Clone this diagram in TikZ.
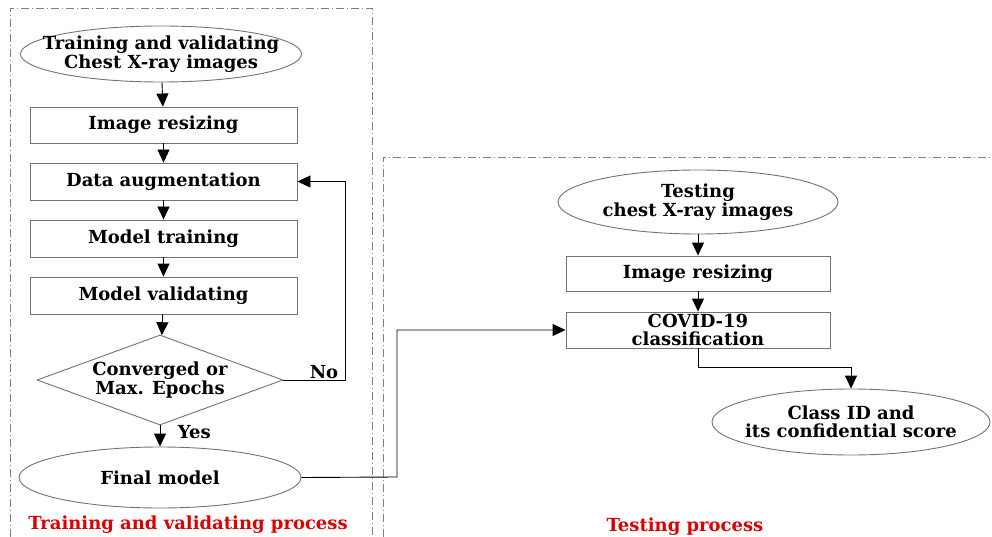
\documentclass[tikz,border=0pt]{standalone}
\usepackage{fontspec}
\setmainfont{DejaVu Serif}
\usetikzlibrary{shapes.geometric,arrows.meta}
\begin{document}
\begin{tikzpicture}[x=1pt,y=-1pt,
  every node/.style={font=\bfseries\fontsize{18}{18.5}\selectfont, align=center},
  boxnode/.style={draw=black!55, line width=0.9pt, minimum width=267pt, minimum height=37pt, inner sep=0pt},
  ovalnode/.style={ellipse, draw=black!55, line width=0.9pt, inner xsep=-25pt, inner ysep=-6pt},
  decnode/.style={diamond, draw=black!55, line width=0.9pt, inner sep=0pt, aspect=2.7},
  flow/.style={-{Triangle[length=13pt,width=12pt]}, line width=0.9pt},
  region/.style={draw=black!50, line width=0.9pt, dash pattern=on 8pt off 3pt on 1pt off 3pt},
  caption/.style={text=red!85!black, font=\bfseries\fontsize{18}{18.5}\selectfont}]
\useasboundingbox (0,0) rectangle (992,537);

% process regions
\draw[region] (10,537) -- (10,8) -- (372,8) -- (372,537);
\draw[region] (383,537) -- (383,157) -- (992,157);

% training / validating flow
\node[ovalnode, minimum width=281pt, minimum height=56pt] (src) at (161,54) {Training and validating\\Chest X-ray images};
\node[boxnode, minimum height=36pt] (resize) at (163.5,125) {Image resizing};
\node[boxnode] (aug) at (163.5,181.5) {Data augmentation};
\node[boxnode] (train) at (163.5,238.5) {Model training};
\node[boxnode] (valid) at (163.5,295.5) {Model validating};
\node[decnode, minimum width=246pt, minimum height=90pt] (conv) at (160,380) {Converged or\\Max. Epochs};
\node[ovalnode, minimum width=282pt, minimum height=61pt] (final) at (160,477.5) {Final model};
\node[caption] (cap1) at (188,525) {Training and validating process};

\draw[flow] (src) -- (resize);
\draw[flow] (resize) -- (aug);
\draw[flow] (aug) -- (train);
\draw[flow] (train) -- (valid);
\draw[flow] (valid) -- (conv);
\draw[flow] (conv) -- (final) node[pos=0.3, right, xshift=14pt] {Yes};
\coordinate (nocorner) at (345,380);
\draw[flow] (conv.east) -- (nocorner) |- (aug.east);
\node (nolabel) at (324,372) {No};

% testing flow
\node[ovalnode, minimum width=280pt, minimum height=64pt] (test) at (698,202) {Testing\\chest X-ray images};
\node[boxnode, minimum width=264pt, minimum height=35pt] (tresize) at (698,273.5) {Image resizing};
\node[boxnode, minimum width=264pt, minimum height=36pt] (covid) at (698,330) {COVID-19\\classification};
\node[ovalnode, minimum width=278pt, minimum height=66pt] (result) at (851,422) {Class ID and\\its confidential score};
\node[caption] (cap2) at (685,527) {Testing process};

\draw[flow] (test) -- (tresize);
\draw[flow] (tresize) -- (covid);
\coordinate (cbend) at (698,367);
\draw[flow] (covid.south) -- (cbend) -| (result.north);
\coordinate (fbend) at (397,477);
\draw[flow] (final.east) -- (fbend) |- (covid.west);
\end{tikzpicture}
\end{document}
